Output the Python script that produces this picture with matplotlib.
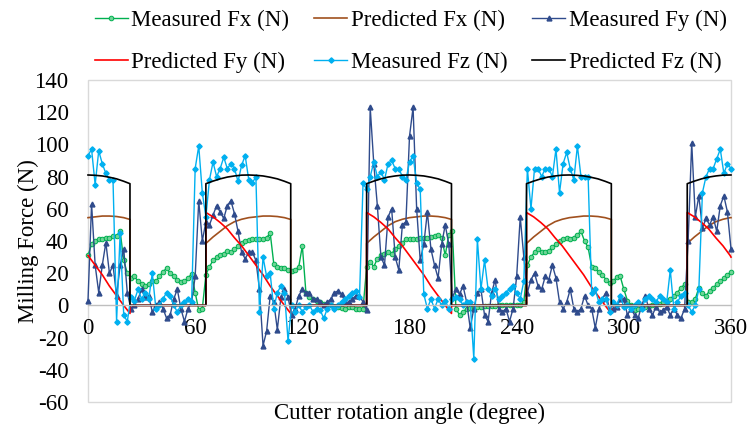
import numpy as np
import matplotlib
matplotlib.use('Agg')
import matplotlib.pyplot as plt
from matplotlib.patches import Rectangle

plt.rcParams['font.family'] = ['Liberation Serif', 'DejaVu Serif']
plt.rcParams['axes.unicode_minus'] = False

# measured forces, read every 2 degrees (0..360)
meas_angle = np.arange(0, 361, 2)

meas_fx = [
    31, 38, 40, 41, 41, 42, 42, 43, 43, 46,
    28, 20, 17, 18, 15, 13, 12, 13, 15, 15,
    18, 21, 23, 20, 18, 16, 14.5, 15, 17, 19.5,
    8, -3, -2, 19, 24, 28, 30, 31, 32, 34,
    33, 35, 37, 39, 40, 40.5, 41, 41, 41, 41.5,
    42, 45, 26, 24, 23, 23, 22, 21.5, 22, 24,
    37, 8, 5, 4, 3, 2, 1, 1, 0, -1,
    -1, -1.5, -2, -1, -1, -2, -2, -2, 24, 27,
    24, 29, 31, 32, 33, 32, 35, 37, 39, 41,
    41.5, 41, 41, 42, 42, 42, 42.5, 43, 43.5, 42,
    31, 44, 46, -2, -6, -4, -2, -1.5, -1, -1,
    -1, -0.5, -0.5, -0.5, -0.5, 0, 0, 0, 0, 0.5,
    0.5, 0.5, 2, 25, 30, 33, 35, 33, 33, 34,
    36, 38, 40, 41, 42, 41.5, 42, 44, 46, 40,
    36, 24, 23, 20.5, 19, 16, 14, 15, 17.5, 18,
    10, 3, 0, -3, -2, -1.5, -1, -0.5, 0, 0.5,
    1, 2, 3, 4, 6, 8, 11, 13, 2, 2,
    4, 11, 8, 6, 9, 11, 13, 15, 17, 19,
    21,
]

meas_fy = [
    3, 63, 25, 8, 25, 39, 20, 25, 6, 25,
    35, 8, -2, 0, 4, 10, 5, 6, -4, 0,
    2, -2, -8, -6, 4, 10, -2, -10, -2, 2,
    18, 65, 40, 52, 50, 56, 62, 58, 54, 62,
    65, 57, 46, 33, 29, 33, 33, 28, 10, -25,
    -16, 6, 2, -15, 5, 10, 5, -6, -2, 6,
    10, 8, 8, 4, 4, 2, 0, 2, 4, 8,
    9, 7, 2, 2, 4, 6, 6, 2, -3, 123,
    88, 62, 30, 25, 55, 60, 30, 22, 50, 52,
    105, 123, 60, 28, 38, 58, 35, 25, 17, 38,
    50, 38, 5, 10, 7, 12, 2, -14, -2, 8,
    10, -6, -10, 8, 16, -2, -4, -2, -10, -2,
    18, 55, 30, 8, 16, 20, 12, 10, 18, 16,
    25, 17, 2, -2, 2, 10, -2, -4, -2, 6,
    0, -2, -14, -2, 4, 8, -3, -2, -1, 4,
    4, -6, -2, -6, -8, 0, 6, -2, -6, -1,
    -4, -3, -1, -6, -2, -6, -8, -2, 40, 101,
    55, 68, 48, 54, 50, 55, 46, 62, 68, 58,
    35,
]

meas_fz = [
    93, 97, 75, 96, 88, 82, 78, 78, -10, 45,
    -6, -10, 5, 3, 10, 4, 8, 4, 20, -2,
    0, 4, 8, 6, 0, -4, 0, 2, 4, 2,
    85, 99, 70, 55, 78, 89, 80, 85, 92, 85,
    88, 85, 77, 87, 93, 78, 76, 80, -4, 30,
    18, 20, -2, 8, 12, 8, -22, 0, -4, 0,
    -4, -1, 0, -4, -2, -3, -8, -2, 0, -2,
    0, 2, 4, 6, 8, 9, 5, 76, 72, 80,
    89, 80, 83, 78, 88, 90, 85, 85, 80, 78,
    89, 93, 76, 72, 7, -2, 4, -2, 4, 0,
    3, -2, 4, 5, 4, 0, 2, 2, -33, 41,
    10, 28, 10, 6, 10, 4, 6, 8, 10, 12,
    8, 4, 15, 85, 60, 85, 85, 80, 85, 85,
    80, 97, 70, 88, 95, 85, 78, 99, 80, 80,
    80, 8, 10, 2, 4, 4, -4, 2, 0, 6,
    -1, 0, -2, 0, 2, -2, 4, 6, 4, 2,
    6, 4, 2, 22, -2, 2, 6, 8, 0, -4,
    0, 10, 70, 80, 85, 85, 91, 97, 82, 88,
    85,
]

# predicted forces
pred_angle = [
    0, 4, 8, 12, 16, 20, 23.5,
    23.5, 66,
    66, 70, 74, 78, 82, 86, 90, 94, 98, 102, 106, 110, 113.5,
    113.5, 156,
    156, 160, 164, 168, 172, 176, 180, 184, 188, 192, 196, 200, 203.5,
    203.5, 245.5,
    245.5, 249.5, 253.5, 257.5, 261.5, 265.5, 269.5, 273.5, 277.5, 281.5, 285.5, 289.5, 293,
    293, 335.5,
    335.5, 339.5, 343.5, 347.5, 351.5, 355.5, 359.5, 360,
]

pred_fx = [
    54.5, 55, 55.5, 55.5, 55.2, 54.5, 53.4,
    0, 0,
    38.5, 42.5, 46, 49.5, 52, 53.5, 54.5, 55, 55.5, 55.5, 55.2, 54.5, 53.4,
    0, 0,
    38.5, 42.5, 46, 49.5, 52, 53.5, 54.5, 55, 55.5, 55.5, 55.2, 54.5, 53.4,
    0, 0,
    38.5, 42.5, 46, 49.5, 52, 53.5, 54.5, 55, 55.5, 55.5, 55.2, 54.5, 53.4,
    0, 0,
    38.5, 42.5, 46, 49.5, 52, 53.5, 54.5, 54.5,
]

pred_fy = [
    31, 25, 19, 12, 6, 0, -5,
    0, 0,
    57.7, 55, 51.5, 47.5, 42, 37, 31, 25, 19, 12, 6, 0, -5,
    0, 0,
    57.7, 55, 51.5, 47.5, 42, 37, 31, 25, 19, 12, 6, 0, -5,
    0, 0,
    57.7, 55, 51.5, 47.5, 42, 37, 31, 25, 19, 12, 6, 0, -5,
    0, 0,
    57.7, 55, 51.5, 47.5, 42, 37, 31, 30,
]

pred_fz = [
    81, 80.8, 80.4, 79.6, 78.6, 77.1, 75.6,
    0, 0,
    75.6, 77.2, 78.6, 79.7, 80.4, 80.9, 81, 80.8, 80.4, 79.6, 78.6, 77.1, 75.6,
    0, 0,
    75.6, 77.2, 78.6, 79.7, 80.4, 80.9, 81, 80.8, 80.4, 79.6, 78.6, 77.1, 75.6,
    0, 0,
    75.6, 77.2, 78.6, 79.7, 80.4, 80.9, 81, 80.8, 80.4, 79.6, 78.6, 77.1, 75.6,
    0, 0,
    75.6, 77.2, 78.6, 79.7, 80.4, 80.9, 81, 81,
]

FS = 16.5

fig = plt.figure(figsize=(7.48, 4.30), dpi=100)
ax = fig.add_axes([88 / 748, 28 / 430, (731 - 88) / 748, (402 - 80) / 430])

l1, = ax.plot(meas_angle, meas_fx, color='#00B050', lw=1.0, marker='o', ms=3.3,
              mfc='#6FD597', mec='#00B050', mew=0.7, label='Measured Fx (N)', clip_on=False)
l2, = ax.plot(pred_angle, pred_fx, color='#A0501E', lw=1.2, label='Predicted Fx (N)', clip_on=False)
l3, = ax.plot(meas_angle, meas_fy, color='#2F4B8C', lw=1.0, marker='^', ms=3.5,
              mec='#2F4B8C', label='Measured Fy (N)', clip_on=False)
l4, = ax.plot(pred_angle, pred_fy, color='#FF0000', lw=1.2, label='Predicted Fy (N)', clip_on=False)
l5, = ax.plot(meas_angle, meas_fz, color='#00B0F0', lw=1.0, marker='D', ms=2.7,
              mec='#00B0F0', label='Measured Fz (N)', clip_on=False)
l6, = ax.plot(pred_angle, pred_fz, color='black', lw=1.2, label='Predicted Fz (N)', clip_on=False)

ax.set_xlim(0, 360)
ax.set_ylim(-60, 140)
ax.set_xticks(range(0, 361, 60))
ax.set_yticks(range(-60, 141, 20))

for side in ['top', 'left', 'right']:
    ax.spines[side].set_visible(False)
ax.spines['bottom'].set_position(('data', 0))
ax.spines['bottom'].set_color('#BFBFBF')
ax.spines['bottom'].set_linewidth(1)
ax.add_patch(Rectangle((0, 0), 1, 1, transform=ax.transAxes, fill=False,
                       ec='#D9D9D9', lw=1, clip_on=False, zorder=0))

ax.tick_params(length=0, labelsize=FS)
ax.tick_params(axis='y', pad=14)
ax.tick_params(axis='x', pad=9)

fig.text(409.5 / 748, (430 - 413) / 430, 'Cutter rotation angle (degree)',
         ha='center', va='center', fontsize=FS)
fig.text(28 / 748, (430 - 241) / 430, 'Milling Force (N)', rotation=90,
         ha='center', va='center', fontsize=FS)

# legend filled column by column, so reorder to get the row layout
handles = [l1, l4, l2, l5, l3, l6]
fig.legend(handles=handles, labels=[h.get_label() for h in handles], ncol=3,
           loc='upper left', bbox_to_anchor=(95 / 748, 1 - 10 / 430),
           frameon=False, fontsize=FS, handlelength=1.43, handletextpad=0.15,
           columnspacing=1.1, labelspacing=0.9, borderpad=0, borderaxespad=0)

fig.savefig('out.png', dpi=100)
